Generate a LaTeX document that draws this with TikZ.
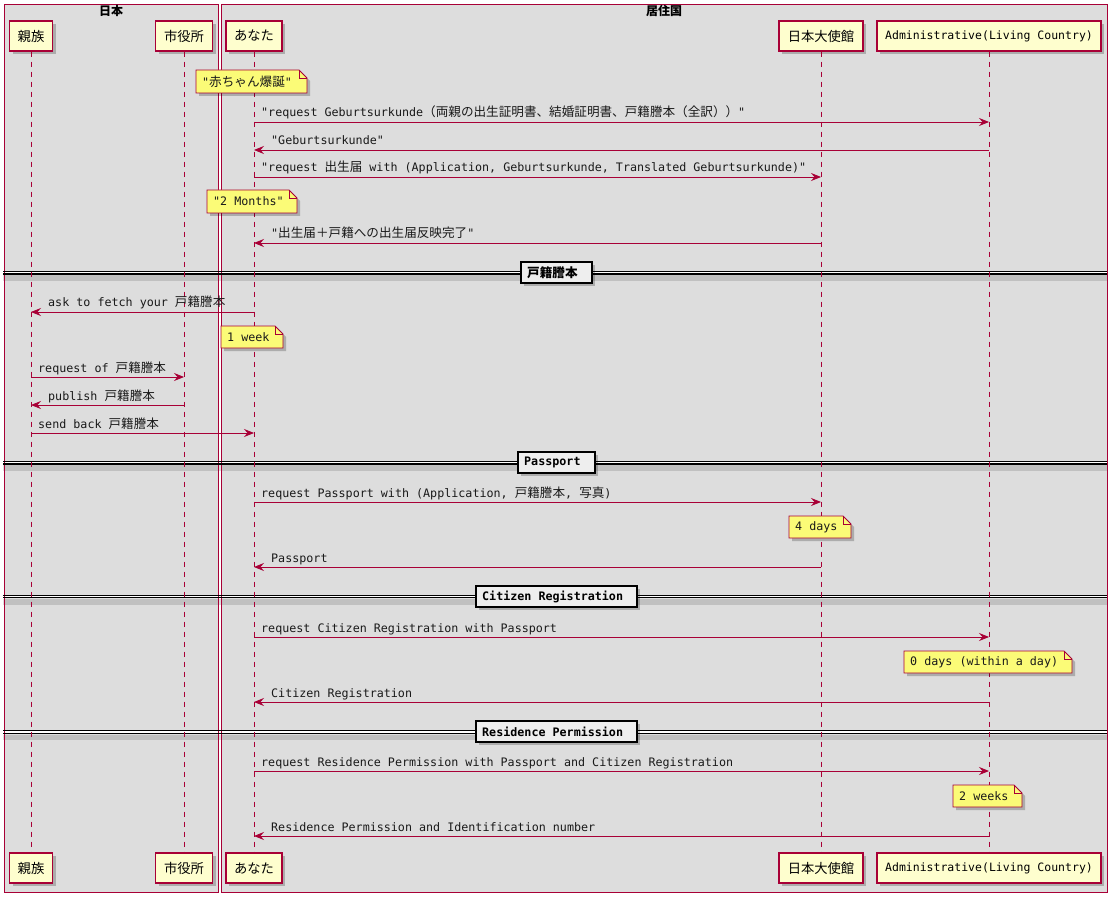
\documentclass[tikz,border=0pt]{standalone}
\usepackage{fontspec}
\usetikzlibrary{arrows.meta,shadows}
\newfontfamily\mono{DejaVu Sans Mono}
\newfontfamily\cjk[Scale=1.077]{Noto Sans CJK JP}
\newfontfamily\cjkp{Noto Sans CJK JP}
\newcommand\J[1]{{\cjk #1}}
\definecolor{pu}{HTML}{A80036}
\definecolor{pfill}{HTML}{FEFECE}
\definecolor{nfill}{HTML}{FBFB77}
\definecolor{gbg}{HTML}{DDDDDD}
\definecolor{dfill}{HTML}{EEEEEE}
\tikzset{
  shad/.style={drop shadow={shadow xshift=3pt,shadow yshift=-3pt,fill=black,opacity=0.22}},
  part/.style={draw=pu, fill=pfill, line width=1.3pt, minimum height=30pt, inner sep=0pt, shad},
  pcjk/.style={font=\cjkp\fontsize{13.3}{15}\selectfont},
  pmono/.style={font=\mono\fontsize{11.5}{14}\selectfont},
  life/.style={draw=pu, line width=0.9pt, dash pattern=on 5pt off 5pt},
  msgline/.style={draw=pu, line width=0.9pt, -{Stealth[length=10pt,width=8pt,inset=3.5pt]}},
  lbl/.style={font=\mono\fontsize{11.7}{14}\selectfont, inner sep=0pt, text=black!90},
  notebox/.style={draw=pu, fill=nfill, line width=0.9pt, shad},
  gbox/.style={draw=pu, fill=gbg, line width=0.9pt},
  gtitle/.style={font=\cjkp\bfseries\fontsize{12}{14}\selectfont, inner sep=0pt},
  divbox/.style={draw=black, fill=dfill, line width=1.3pt, shad},
  divlbl/.style={font=\mono\bfseries\fontsize{11.7}{14}\selectfont, inner sep=0pt, anchor=west},
}
\newcommand\Msg[6]{%
  \coordinate (#1s) at (#2,#4);
  \coordinate (#1e) at (#3,#4);
  \draw[msgline] (#1s) -- (#1e);
  \node[lbl, anchor=base west] (#1t) at (#5,#4-5) {#6};
}
\newcommand\Note[6]{%
  \draw[notebox] (#2,#3) -- (#4-8,#3) -- (#4,#3+8) -- (#4,#5) -- (#2,#5) -- cycle;
  \draw[draw=pu, line width=0.9pt] (#4-8,#3) -- (#4-8,#3+8) -- (#4,#3+8);
  \node[lbl, anchor=west] (#1) at (#2+6,{(#3+#5)/2}) {#6};
}
\newcommand\DivBox[5]{%
  \draw[divbox] (#3,#2-10.5) rectangle (#4,#2+10.5);
  \node[divlbl] (#1) at (#3+6,#2) {#5};
}
\begin{document}
\begin{tikzpicture}[x=1pt,y=-1pt]
\useasboundingbox (0,0) rectangle (1119,901);
\fill[white] (0,0) rectangle (1119,901);
% groups
\fill[gbg] (4,4) rectangle (218,892);
\fill[gbg] (221,4) rectangle (1107,892);
% divider bands
\foreach \yy in {272.8,462.8,596.5,732} {
  \fill[black, opacity=0.13] (3,\yy+2.5) rectangle (1107,\yy+8);
  \fill[white] (3,\yy-1.2) rectangle (1107,\yy+1.2);
}
\draw[gbox, fill=none] (4,4) rectangle (218,892);
\draw[gbox, fill=none] (221,4) rectangle (1107,892);
\foreach \yy in {272.8,462.8,596.5,732} {
  \draw[black, line width=1.1pt] (3,\yy-1.2) -- (1107,\yy-1.2) (3,\yy+1.2) -- (1107,\yy+1.2);
}
\node[gtitle] (gjp) at (111,11) {日本};
\node[gtitle] (glc) at (664,11) {居住国};
% participants
\node[part, pcjk, minimum width=43pt] (relT) at (31,36) {親族};
\node[part, pcjk, minimum width=57pt] (cityT) at (184,36) {市役所};
\node[part, pcjk, minimum width=56pt] (youT) at (254,36) {あなた};
\node[part, pcjk, minimum width=84pt] (embT) at (821,36) {日本大使館};
\node[part, pmono, minimum width=224pt] (admT) at (989,36) {Administrative(Living Country)};
\node[part, pcjk, minimum width=43pt] (relB) at (31,868) {親族};
\node[part, pcjk, minimum width=57pt] (cityB) at (184,868) {市役所};
\node[part, pcjk, minimum width=56pt] (youB) at (254,868) {あなた};
\node[part, pcjk, minimum width=84pt] (embB) at (821,868) {日本大使館};
\node[part, pmono, minimum width=224pt] (admB) at (989,868) {Administrative(Living Country)};
% lifelines
\draw[life] (relT.south) -- (relB.north);
\draw[life] (cityT.south) -- (cityB.north);
\draw[life] (youT.south) -- (youB.north);
\draw[life] (embT.south) -- (embB.north);
\draw[life] (admT.south) -- (admB.north);
% divider labels
\DivBox{d1}{272.5}{521}{592}{\J{戸籍謄本}}
\DivBox{d2}{462.5}{518}{595}{Passport}
\DivBox{d3}{596.5}{476}{637}{Citizen Registration}
\DivBox{d4}{731.5}{476}{637}{Residence Permission}
% notes
\Note{n1}{196}{70}{307}{93}{"\J{赤ちゃん爆誕}"}
\Note{n2}{207}{190}{297}{213}{"2 Months"}
\Note{n3}{221}{326}{283}{348}{1 week}
\Note{n4}{789}{516}{851}{538}{4 days}
\Note{n5}{904}{651}{1072}{673}{0 days (within a day)}
\Note{n6}{953}{785}{1022}{807}{2 weeks}
% messages
\Msg{m1}{254}{989}{122}{261}{"request Geburtsurkunde\J{（両親の出生証明書、結婚証明書、戸籍謄本（全訳））}"}
\Msg{m2}{989}{254}{150}{271}{"Geburtsurkunde"}
\Msg{m3}{254}{821}{177}{261}{"request \J{出生届} with (Application, Geburtsurkunde, Translated Geburtsurkunde)"}
\Msg{m4}{821}{254}{243}{271}{"\J{出生届＋戸籍への出生届反映完了}"}
\Msg{m5}{254}{31}{312}{48}{ask to fetch your \J{戸籍謄本}}
\Msg{m6}{31}{184}{377}{38}{request of \J{戸籍謄本}}
\Msg{m7}{184}{31}{405}{48}{publish \J{戸籍謄本}}
\Msg{m8}{31}{254}{433}{38}{send back \J{戸籍謄本}}
\Msg{m9}{254}{821}{502}{261}{request Passport with (Application, \J{戸籍謄本}, \J{写真})}
\Msg{m10}{821}{254}{567}{271}{Passport}
\Msg{m11}{254}{989}{637}{261}{request Citizen Registration with Passport}
\Msg{m12}{989}{254}{702}{271}{Citizen Registration}
\Msg{m13}{254}{989}{771}{261}{request Residence Permission with Passport and Citizen Registration}
\Msg{m14}{989}{254}{836}{271}{Residence Permission and Identification number}
\end{tikzpicture}
\end{document}
